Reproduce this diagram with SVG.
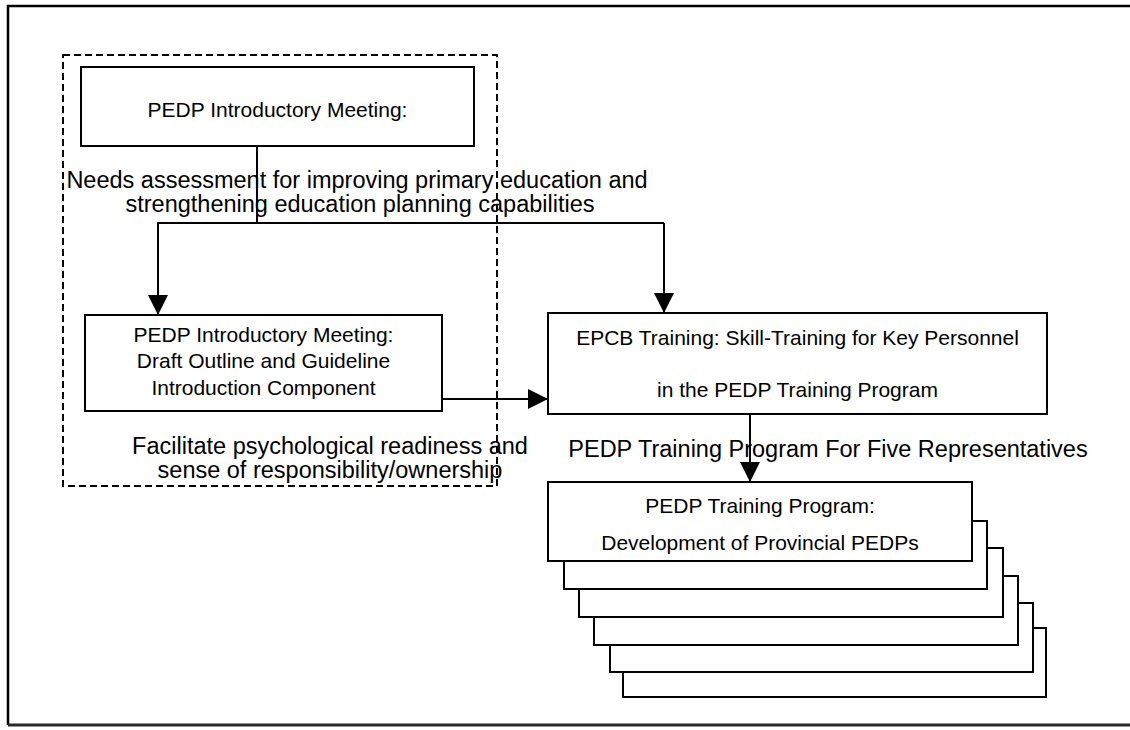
<svg xmlns="http://www.w3.org/2000/svg" width="1130" height="730" viewBox="0 0 1130 730">
  <style>
    .box { fill: #fff; stroke: #000; stroke-width: 2; }
    .frame { fill: none; stroke: #000; stroke-width: 2.5; }
    .dash { fill: none; stroke: #000; stroke-width: 2; stroke-dasharray: 7 4; }
    .wire { fill: none; stroke: #000; stroke-width: 2; }
    .t { font-family: "Liberation Sans", Arial, sans-serif; font-size: 21px; fill: #000; text-anchor: middle; }
    .lbl { font-family: "Liberation Sans", Arial, sans-serif; font-size: 23.5px; fill: #000; text-anchor: middle; }
  </style>
  <defs>
    <marker id="arrow" markerWidth="20" markerHeight="20" refX="20" refY="10" orient="auto" markerUnits="userSpaceOnUse">
      <path d="M0,0 L20,10 L0,20 Z" fill="#000"/>
    </marker>
  </defs>

  <rect width="1130" height="730" fill="#fff"/>

  <!-- page frame -->
  <path class="frame" d="M1130,6 L8,6 L8,725"/>
  <line x1="8" y1="725" x2="1130" y2="725" stroke="#2a2a2a" stroke-width="3"/>

  <!-- introductory meeting grouping -->
  <rect id="intro-group" class="dash" x="63" y="55" width="434" height="431"/>

  <g id="node-intro">
    <rect class="box" x="81" y="67" width="393" height="79"/>
    <text class="t" x="277.5" y="117">PEDP Introductory Meeting:</text>
  </g>

  <g id="node-draft">
    <rect class="box" x="85" y="315" width="357" height="96"/>
    <text class="t" x="263.5" y="342">PEDP Introductory Meeting:</text>
    <text class="t" x="263.5" y="368">Draft Outline and Guideline</text>
    <text class="t" x="263.5" y="395">Introduction Component</text>
  </g>

  <g id="node-epcb">
    <rect class="box" x="548" y="313" width="499" height="101"/>
    <text class="t" x="797.5" y="345">EPCB Training: Skill-Training for Key Personnel</text>
    <text class="t" x="797.5" y="397">in the PEDP Training Program</text>
  </g>

  <!-- stacked provincial programmes, back to front -->
  <g id="node-provincial">
    <rect class="box" x="623" y="628" width="423" height="69"/>
    <rect class="box" x="610" y="603" width="423" height="69"/>
    <rect class="box" x="594" y="576" width="424" height="69"/>
    <rect class="box" x="579" y="548" width="424" height="69"/>
    <rect class="box" x="564" y="521" width="423" height="68"/>
    <rect class="box" x="548" y="482" width="424" height="79"/>
    <text class="t" x="760" y="513">PEDP Training Program:</text>
    <text class="t" x="760" y="550">Development of Provincial PEDPs</text>
  </g>

  <g id="connectors">
    <line class="wire" x1="257" y1="146" x2="257" y2="223"/>
    <line class="wire" x1="157" y1="223" x2="664" y2="223"/>
    <line class="wire" x1="158" y1="223" x2="158" y2="315" marker-end="url(#arrow)"/>
    <line class="wire" x1="664" y1="223" x2="664" y2="313" marker-end="url(#arrow)"/>
    <line class="wire" x1="442" y1="399" x2="548" y2="399" marker-end="url(#arrow)"/>
    <line class="wire" x1="750" y1="414" x2="750" y2="482" marker-end="url(#arrow)"/>
  </g>

  <g id="labels">
    <text class="lbl" x="357" y="188">Needs assessment for improving primary education and</text>
    <text class="lbl" x="360" y="212">strengthening education planning capabilities</text>
    <text class="lbl" x="330" y="454">Facilitate psychological readiness and</text>
    <text class="lbl" x="330" y="478">sense of responsibility/ownership</text>
    <text class="lbl" x="828" y="457">PEDP Training Program For Five Representatives</text>
  </g>
</svg>
